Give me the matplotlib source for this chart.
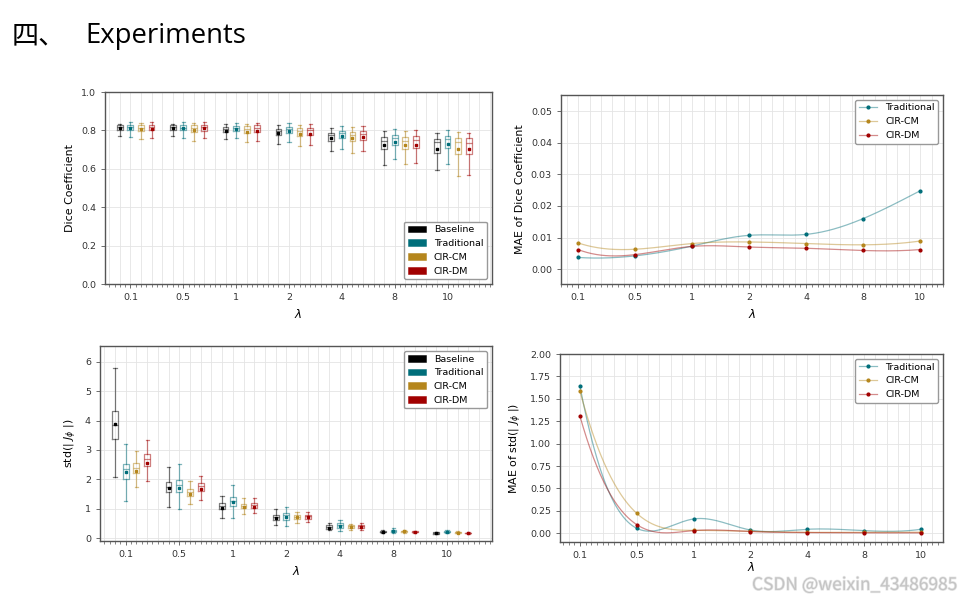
import numpy as np
import matplotlib.pyplot as plt
from matplotlib.patches import Patch
from matplotlib.lines import Line2D
from matplotlib.colors import to_rgba
from matplotlib.ticker import MultipleLocator, FixedLocator
import matplotlib.patheffects as pe

plt.rcParams['font.family'] = ['DejaVu Sans']

LAMBDAS = ["0.1", "0.5", "1", "2", "4", "8", "10"]
METHODS = ["Baseline", "Traditional", "CIR-CM", "CIR-DM"]
COLORS = ["#000000", "#006e7a", "#b5861c", "#a10000"]

# Dice coefficient boxes, rows = METHODS, cols = LAMBDAS
dice_lo = [[0.769, 0.769, 0.755, 0.731, 0.691, 0.622, 0.592],
           [0.765, 0.760, 0.760, 0.738, 0.705, 0.653, 0.625],
           [0.757, 0.746, 0.739, 0.717, 0.682, 0.627, 0.561],
           [0.760, 0.760, 0.746, 0.726, 0.691, 0.630, 0.570]]
dice_q1 = [[0.800, 0.800, 0.790, 0.777, 0.743, 0.705, 0.684],
           [0.800, 0.800, 0.797, 0.784, 0.760, 0.722, 0.708],
           [0.797, 0.793, 0.786, 0.772, 0.746, 0.705, 0.679],
           [0.800, 0.798, 0.790, 0.774, 0.752, 0.708, 0.679]]
dice_med = [[0.817, 0.817, 0.807, 0.798, 0.774, 0.747, 0.738],
            [0.817, 0.815, 0.815, 0.807, 0.786, 0.760, 0.753],
            [0.815, 0.812, 0.807, 0.795, 0.778, 0.747, 0.740],
            [0.817, 0.817, 0.812, 0.800, 0.781, 0.752, 0.734]]
dice_q3 = [[0.826, 0.826, 0.817, 0.809, 0.786, 0.765, 0.754],
           [0.826, 0.826, 0.824, 0.817, 0.798, 0.778, 0.769],
           [0.826, 0.829, 0.821, 0.810, 0.791, 0.765, 0.760],
           [0.828, 0.828, 0.826, 0.814, 0.795, 0.769, 0.760]]
dice_hi = [[0.835, 0.835, 0.833, 0.826, 0.812, 0.795, 0.786],
           [0.842, 0.842, 0.838, 0.838, 0.824, 0.809, 0.803],
           [0.838, 0.838, 0.835, 0.829, 0.817, 0.798, 0.791],
           [0.842, 0.842, 0.838, 0.834, 0.822, 0.800, 0.789]]
dice_mean = [[0.812, 0.810, 0.798, 0.784, 0.760, 0.726, 0.702],
             [0.812, 0.812, 0.807, 0.797, 0.772, 0.740, 0.731],
             [0.809, 0.803, 0.793, 0.783, 0.760, 0.722, 0.703],
             [0.807, 0.812, 0.798, 0.783, 0.764, 0.726, 0.703]]

# std(|J_phi|) boxes
jac_lo = [[2.07, 1.07, 0.70, 0.45, 0.27, 0.18, 0.14],
          [1.28, 0.98, 0.68, 0.43, 0.26, 0.18, 0.19],
          [1.76, 1.17, 0.83, 0.53, 0.30, 0.19, 0.17],
          [1.95, 1.30, 0.85, 0.57, 0.28, 0.19, 0.16]]
jac_q1 = [[3.36, 1.58, 0.98, 0.63, 0.32, 0.20, 0.16],
          [2.01, 1.56, 1.09, 0.62, 0.34, 0.22, 0.20],
          [2.23, 1.45, 1.02, 0.66, 0.36, 0.21, 0.19],
          [2.47, 1.61, 1.02, 0.67, 0.35, 0.20, 0.17]]
jac_med = [[3.85, 1.75, 1.10, 0.73, 0.39, 0.22, 0.18],
           [2.34, 1.81, 1.27, 0.78, 0.45, 0.26, 0.23],
           [2.40, 1.58, 1.11, 0.74, 0.41, 0.24, 0.20],
           [2.68, 1.79, 1.13, 0.76, 0.42, 0.22, 0.18]]
jac_q3 = [[4.34, 1.92, 1.20, 0.79, 0.44, 0.24, 0.20],
          [2.52, 1.97, 1.39, 0.85, 0.51, 0.28, 0.25],
          [2.55, 1.67, 1.18, 0.78, 0.45, 0.26, 0.22],
          [2.85, 1.87, 1.20, 0.80, 0.46, 0.24, 0.19]]
jac_hi = [[5.78, 2.43, 1.45, 0.98, 0.51, 0.28, 0.23],
          [3.21, 2.52, 1.81, 1.05, 0.61, 0.34, 0.28],
          [2.98, 1.95, 1.36, 0.88, 0.49, 0.29, 0.25],
          [3.35, 2.13, 1.38, 0.91, 0.53, 0.26, 0.21]]
jac_mean = [[3.88, 1.70, 1.04, 0.69, 0.36, 0.22, 0.17],
            [2.24, 1.72, 1.22, 0.74, 0.43, 0.25, 0.22],
            [2.30, 1.50, 1.07, 0.71, 0.39, 0.24, 0.19],
            [2.57, 1.66, 1.06, 0.72, 0.39, 0.22, 0.18]]

# MAE curves (Traditional, CIR-CM, CIR-DM)
mae_dice_trad = [0.0037, 0.0042, 0.0073, 0.0107, 0.0110, 0.0160, 0.0248]
mae_dice_cm = [0.0083, 0.0063, 0.0081, 0.0086, 0.0081, 0.0077, 0.0089]
mae_dice_dm = [0.0062, 0.0046, 0.0072, 0.0070, 0.0066, 0.0059, 0.0062]
mae_std_trad = [1.643, 0.056, 0.160, 0.037, 0.045, 0.030, 0.045]
mae_std_cm = [1.587, 0.223, 0.033, 0.022, 0.011, 0.012, 0.012]
mae_std_dm = [1.309, 0.097, 0.030, 0.020, 0.008, 0.005, 0.005]

W, H = 973, 597
SPINE = "#555555"
GRID = "#e4e4e4"
FS = 6.8


def px_axes(fig, x0, y0, x1, y1):
    return fig.add_axes([x0 / W, 1 - y1 / H, (x1 - x0) / W, (y1 - y0) / H])


def style(ax):
    for s in ax.spines.values():
        s.set_color(SPINE)
        s.set_linewidth(1.0)
    ax.tick_params(which="major", length=3, width=0.6, color=SPINE,
                   labelsize=FS, labelcolor="#333333")
    ax.tick_params(which="minor", length=2, width=0.5, color=SPINE)
    ax.grid(axis="y", color=GRID, lw=0.6)
    ax.set_axisbelow(True)


def smooth(y, n=300):
    # not-a-knot cubic spline through equally spaced points, for drawing only
    y = np.asarray(y, float)
    k = len(y)
    A = np.zeros((k, k))
    b = np.zeros(k)
    A[0, :3] = [1, -2, 1]
    A[-1, -3:] = [1, -2, 1]
    for i in range(1, k - 1):
        A[i, i - 1:i + 2] = [1, 4, 1]
        b[i] = 6 * (y[i + 1] - 2 * y[i] + y[i - 1])
    M = np.linalg.solve(A, b)
    xs = np.linspace(0, k - 1, n)
    i = np.minimum(xs.astype(int), k - 2)
    t = xs - i
    ys = (M[i] * (1 - t) ** 3 + M[i + 1] * t ** 3) / 6 \
        + (y[i] - M[i] / 6) * (1 - t) + (y[i + 1] - M[i + 1] / 6) * t
    return xs, ys


def box_panel(ax, lo, q1, med, q3, hi, mean, ylabel):
    style(ax)
    for m, col in enumerate(COLORS):
        edge = to_rgba(col, 0.5)
        stats = [dict(whislo=lo[m][j], q1=q1[m][j], med=med[m][j], q3=q3[m][j],
                      whishi=hi[m][j], mean=mean[m][j], fliers=[])
                 for j in range(len(LAMBDAS))]
        pos = [5 * j + m - 1 for j in range(len(LAMBDAS))]
        ax.bxp(stats, positions=pos, widths=0.55, capwidths=0.3, showmeans=True,
               manage_ticks=False,
               boxprops=dict(color=edge, lw=0.9),
               whiskerprops=dict(color=edge, lw=0.9),
               capprops=dict(color=edge, lw=0.9),
               medianprops=dict(color=edge, lw=0.9),
               meanprops=dict(marker="s", markersize=1.6, markerfacecolor=col,
                              markeredgecolor=col))
    ax.set_xlim(-2.4, 34.2)
    ax.xaxis.set_major_locator(FixedLocator([5 * j for j in range(len(LAMBDAS))]))
    ax.set_xticklabels(LAMBDAS)
    ax.xaxis.set_minor_locator(MultipleLocator(0.5))
    ax.vlines(np.arange(-2, 35), 0, 1, transform=ax.get_xaxis_transform(),
              colors=GRID, lw=0.6, zorder=0)
    ax.set_xlabel(r"$\lambda$", fontsize=8.5)
    ax.set_ylabel(ylabel, fontsize=7.9)
    handles = [Patch(facecolor=c, edgecolor=to_rgba(c, 0.6), lw=0.6, label=n)
               for n, c in zip(METHODS, COLORS)]
    return handles


def line_panel(ax, series, ylabel):
    style(ax)
    x = np.arange(len(LAMBDAS))
    handles = []
    for (name, ys), col in zip(series, COLORS[1:]):
        xs, sm = smooth(ys)
        ax.plot(xs, sm, color=to_rgba(col, 0.45), lw=0.9)
        ax.plot(x, ys, "o", ms=2.0, color=col)
        handles.append(Line2D([], [], color=to_rgba(col, 0.45), lw=0.9, marker="o",
                              ms=2.0, mfc=col, mec=col, label=name))
    ax.set_xticks(x)
    ax.set_xticklabels(LAMBDAS)
    ax.xaxis.set_minor_locator(MultipleLocator(0.1))
    ax.vlines(np.arange(-0.2, 6.41, 0.2), 0, 1, transform=ax.get_xaxis_transform(),
              colors=GRID, lw=0.6, zorder=0)
    ax.set_xlabel(r"$\lambda$", fontsize=8.5)
    ax.set_ylabel(ylabel, fontsize=7.9)
    return handles


fig = plt.figure(figsize=(W / 100, H / 100), dpi=100)

fig.text(12 / W, 1 - 43 / H, "四、", fontsize=19.5, family=["Noto Sans CJK SC"],
         va="baseline", ha="left")
fig.text(85 / W, 1 - 43 / H, "Experiments", fontsize=19.8, family=["Open Sans"],
         va="baseline", ha="left")

leg_kw = dict(fontsize=FS, edgecolor="#999999", framealpha=1.0)

ax1 = px_axes(fig, 105, 92, 492, 284)
h = box_panel(ax1, dice_lo, dice_q1, dice_med, dice_q3, dice_hi, dice_mean,
              "Dice Coefficient")
ax1.set_ylim(0, 1.0)
ax1.yaxis.set_major_locator(MultipleLocator(0.2))
ax1.legend(handles=h, loc="lower right", **leg_kw)

ax3 = px_axes(fig, 100, 346, 492, 541)
h = box_panel(ax3, jac_lo, jac_q1, jac_med, jac_q3, jac_hi, jac_mean,
              r"std(| $J_\phi$ |)")
ax3.set_ylim(-0.09, 6.53)
ax3.yaxis.set_major_locator(MultipleLocator(1))
ax3.legend(handles=h, loc="upper right", **leg_kw)

ax2 = px_axes(fig, 561, 95, 943, 284)
h = line_panel(ax2, [("Traditional", mae_dice_trad), ("CIR-CM", mae_dice_cm),
                     ("CIR-DM", mae_dice_dm)], "MAE of Dice Coefficient")
ax2.set_xlim(-0.30, 6.40)
ax2.set_ylim(-0.0047, 0.0551)
ax2.yaxis.set_major_locator(MultipleLocator(0.01))
ax2.yaxis.set_major_formatter(plt.FormatStrFormatter("%.2f"))
ax2.legend(handles=h, loc="upper right", **leg_kw)

ax4 = px_axes(fig, 560, 354, 943, 542)
h = line_panel(ax4, [("Traditional", mae_std_trad), ("CIR-CM", mae_std_cm),
                     ("CIR-DM", mae_std_dm)], r"MAE of std(| $J_\phi$ |)")
ax4.set_xlim(-0.35, 6.39)
ax4.set_ylim(-0.097, 2.0)
ax4.yaxis.set_major_locator(MultipleLocator(0.25))
ax4.yaxis.set_major_formatter(plt.FormatStrFormatter("%.2f"))
ax4.xaxis.labelpad = 1
ax4.legend(handles=h, loc="upper right", **leg_kw)

wm = fig.text(957 / W, 1 - 585 / H, "CSDN @weixin_43486985", fontsize=12.5,
              family=["Noto Sans CJK SC", "DejaVu Sans"], color="#c4c4c4",
              ha="right", va="center")
wm.set_path_effects([pe.withStroke(linewidth=1.0, foreground="#e6e6e6")])

fig.savefig("out.png", dpi=100)
